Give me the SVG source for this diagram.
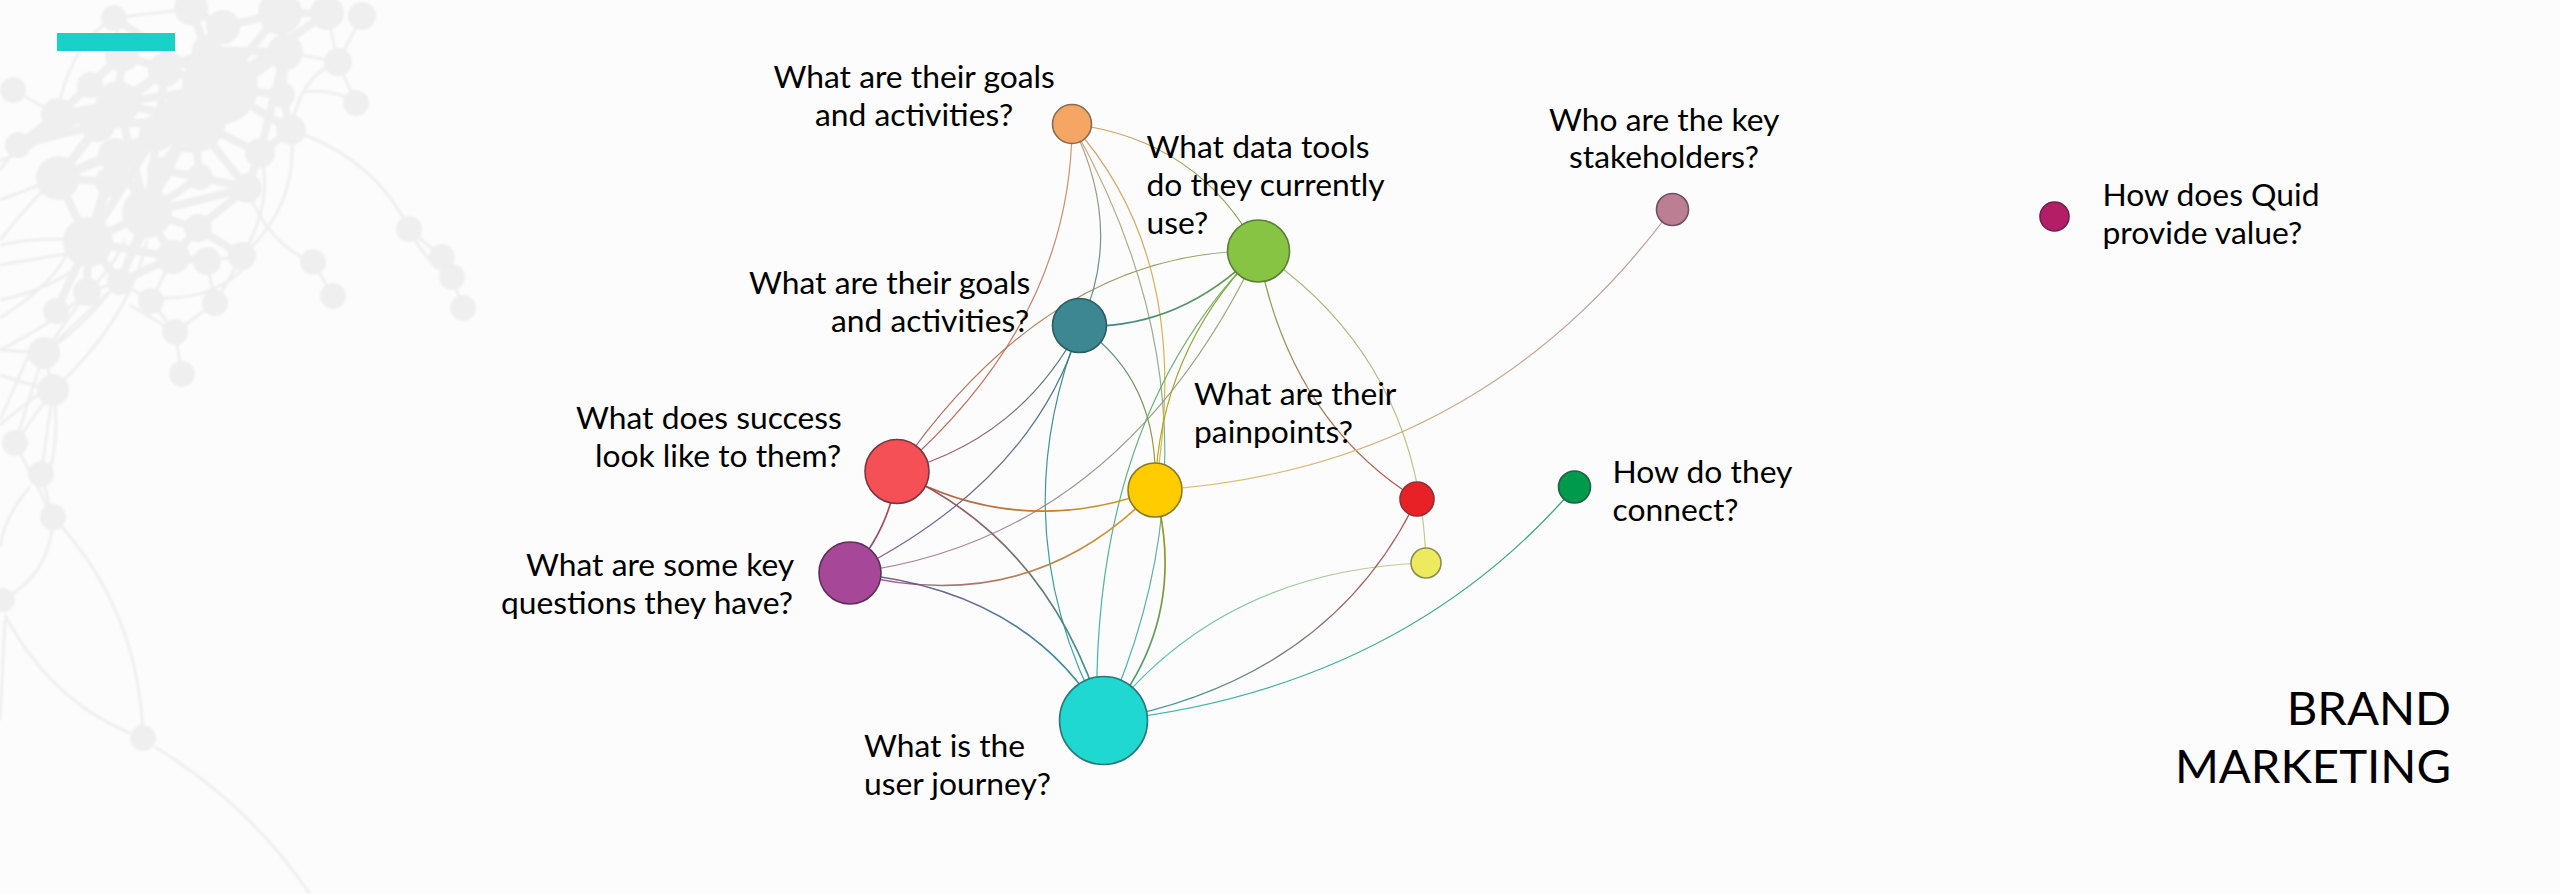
<svg xmlns="http://www.w3.org/2000/svg" width="2560" height="894" viewBox="0 0 2560 894">
<style>
text{font-family:"Lato","Carlito","Open Sans",sans-serif;font-size:31.8px;fill:#000}
.title{font-size:47.3px}
.wm circle{fill:#efefef}
.wmc{fill:none;stroke:#efefef;stroke-width:3}
.wms{fill:none;stroke:#efefef;stroke-width:8}
.e{fill:none;stroke-width:1.2;stroke-opacity:.9}
.e2{fill:none;stroke-width:1.7;stroke-opacity:.95}
.n{stroke-width:1.6}
</style>
<defs>
<filter id="soft" x="-5%" y="-5%" width="110%" height="110%"><feGaussianBlur stdDeviation="0.9"/></filter>
<linearGradient id="OG" gradientUnits="userSpaceOnUse" x1="1072" y1="124" x2="1258" y2="251"><stop offset="0" stop-color="#d8965a"/><stop offset="1" stop-color="#6a9a38"/></linearGradient>
<linearGradient id="OR" gradientUnits="userSpaceOnUse" x1="1072" y1="124" x2="897" y2="472"><stop offset="0" stop-color="#d08e60"/><stop offset="1" stop-color="#b85048"/></linearGradient>
<linearGradient id="GR" gradientUnits="userSpaceOnUse" x1="1258" y1="251" x2="897" y2="472"><stop offset="0" stop-color="#86a552"/><stop offset="1" stop-color="#b85048"/></linearGradient>
<linearGradient id="OT" gradientUnits="userSpaceOnUse" x1="1072" y1="124" x2="1080" y2="326"><stop offset="0" stop-color="#b89a70"/><stop offset="1" stop-color="#2f7f8a"/></linearGradient>
<linearGradient id="OC" gradientUnits="userSpaceOnUse" x1="1072" y1="124" x2="1104" y2="721"><stop offset="0" stop-color="#c8a070"/><stop offset="1" stop-color="#22aea8"/></linearGradient>
<linearGradient id="OY" gradientUnits="userSpaceOnUse" x1="1072" y1="124" x2="1155" y2="490"><stop offset="0" stop-color="#d09a5c"/><stop offset="1" stop-color="#d8b428"/></linearGradient>
<linearGradient id="TG" gradientUnits="userSpaceOnUse" x1="1080" y1="326" x2="1258" y2="251"><stop offset="0" stop-color="#2f7f8a"/><stop offset="1" stop-color="#6a9a3c"/></linearGradient>
<linearGradient id="TY" gradientUnits="userSpaceOnUse" x1="1080" y1="326" x2="1155" y2="490"><stop offset="0" stop-color="#2f7f8a"/><stop offset="1" stop-color="#a89410"/></linearGradient>
<linearGradient id="TR" gradientUnits="userSpaceOnUse" x1="1080" y1="326" x2="897" y2="472"><stop offset="0" stop-color="#2f7480"/><stop offset="1" stop-color="#a84048"/></linearGradient>
<linearGradient id="TP" gradientUnits="userSpaceOnUse" x1="1080" y1="326" x2="850" y2="573"><stop offset="0" stop-color="#2f7480"/><stop offset="1" stop-color="#804488"/></linearGradient>
<linearGradient id="TC" gradientUnits="userSpaceOnUse" x1="1080" y1="326" x2="1104" y2="721"><stop offset="0" stop-color="#2f7f8a"/><stop offset="1" stop-color="#1f9f9c"/></linearGradient>
<linearGradient id="GY" gradientUnits="userSpaceOnUse" x1="1258" y1="251" x2="1155" y2="490"><stop offset="0" stop-color="#6ea032"/><stop offset="1" stop-color="#b89c00"/></linearGradient>
<linearGradient id="GC" gradientUnits="userSpaceOnUse" x1="1258" y1="251" x2="1104" y2="721"><stop offset="0" stop-color="#74a848"/><stop offset="1" stop-color="#22b0a8"/></linearGradient>
<linearGradient id="GP" gradientUnits="userSpaceOnUse" x1="1258" y1="251" x2="850" y2="573"><stop offset="0" stop-color="#8ca868"/><stop offset="1" stop-color="#a06c9c"/></linearGradient>
<linearGradient id="GD" gradientUnits="userSpaceOnUse" x1="1258" y1="251" x2="1417" y2="499"><stop offset="0" stop-color="#80a04a"/><stop offset="1" stop-color="#b8403a"/></linearGradient>
<linearGradient id="GW" gradientUnits="userSpaceOnUse" x1="1258" y1="251" x2="1426" y2="563"><stop offset="0" stop-color="#96ae6c"/><stop offset="1" stop-color="#c8c678"/></linearGradient>
<linearGradient id="YM" gradientUnits="userSpaceOnUse" x1="1155" y1="490" x2="1672" y2="209"><stop offset="0" stop-color="#dcbc5c"/><stop offset="1" stop-color="#b48c98"/></linearGradient>
<linearGradient id="RY" gradientUnits="userSpaceOnUse" x1="897" y1="472" x2="1155" y2="490"><stop offset="0" stop-color="#a84a42"/><stop offset="1" stop-color="#c8a018"/></linearGradient>
<linearGradient id="RP" gradientUnits="userSpaceOnUse" x1="897" y1="472" x2="850" y2="573"><stop offset="0" stop-color="#a84448"/><stop offset="1" stop-color="#84407a"/></linearGradient>
<linearGradient id="RC" gradientUnits="userSpaceOnUse" x1="897" y1="472" x2="1104" y2="721"><stop offset="0" stop-color="#a84448"/><stop offset="1" stop-color="#1f9a98"/></linearGradient>
<linearGradient id="PY" gradientUnits="userSpaceOnUse" x1="850" y1="573" x2="1155" y2="490"><stop offset="0" stop-color="#94508c"/><stop offset="1" stop-color="#d0a018"/></linearGradient>
<linearGradient id="PC" gradientUnits="userSpaceOnUse" x1="850" y1="573" x2="1104" y2="721"><stop offset="0" stop-color="#7c4488"/><stop offset="1" stop-color="#1f9a98"/></linearGradient>
<linearGradient id="YC" gradientUnits="userSpaceOnUse" x1="1155" y1="490" x2="1104" y2="721"><stop offset="0" stop-color="#a89000"/><stop offset="1" stop-color="#2a9c88"/></linearGradient>
<linearGradient id="CW" gradientUnits="userSpaceOnUse" x1="1104" y1="721" x2="1426" y2="563"><stop offset="0" stop-color="#30b8b0"/><stop offset="1" stop-color="#c4c880"/></linearGradient>
<linearGradient id="CD" gradientUnits="userSpaceOnUse" x1="1104" y1="721" x2="1417" y2="499"><stop offset="0" stop-color="#209c98"/><stop offset="1" stop-color="#b84040"/></linearGradient>
<linearGradient id="CN" gradientUnits="userSpaceOnUse" x1="1104" y1="721" x2="1575" y2="487"><stop offset="0" stop-color="#30b0ac"/><stop offset="1" stop-color="#1a9468"/></linearGradient>
</defs>
<rect width="2560" height="894" fill="#fcfcfc"/>
<g id="watermark" class="wm" filter="url(#soft)">
<path class="wms" d="M220 87L114 18M220 87L191 8M220 87L280 13M220 87L327 13M220 87L285 52M220 87L165 70M220 87L122 55M220 87L118 103M220 87L193 120M220 87L282 95M220 87L291 130M193 120L118 103M193 120L157 133M193 120L98 125M193 120L115 155M193 120L160 170M193 120L200 177M193 120L260 153M193 120L247 188M193 120L147 213M193 120L285 52M157 133L58 178M157 133L88 242M157 133L147 213M157 133L110 182M118 103L58 115M118 103L90 85M118 103L58 178M118 103L18 145M118 103L147 213M118 103L122 55M98 125L58 115M98 125L58 178M98 125L18 145M115 155L88 242M115 155L58 178M115 155L147 213M110 182L88 242M110 182L58 178M58 178L88 242M147 213L88 242M147 213L198 228M147 213L173 257M147 213L120 282M147 213L200 177M147 213L247 188M147 213L160 170M198 228L173 257M198 228L247 188M198 228L242 256M88 242L87 292M88 242L120 282M88 242L173 257M88 242L56 311M173 257L120 282M173 257L207 261M260 153L291 130M260 153L247 188M200 177L247 188M200 177L160 170M291 130L282 95M282 95L285 52M280 13L327 13M280 13L223 27M223 27L191 8M207 50L165 70M207 50L285 52M165 70L122 55M122 55L90 85M90 85L58 115M58 115L18 145M118 103L165 70M285 52L260 153M165 70L157 133M98 125L165 70"/>
<path class="wmc" d="M13 90L58 115M18 145L0 170M58 178L0 200M122 55L114 18M87 292L44 353M120 282L44 353M120 282L87 292M151 301L173 257M215 303L242 256M338 62L285 52M338 62L327 13M291 130Q375 158 409 229M409 229Q425 262 452 277M442 257L409 229M452 277L463 308M291 130Q300 205 242 256M247 265Q215 300 160 298M247 188Q268 245 313 262M313 262L333 296M338 62Q300 75 291 130M356 103Q335 88 305 92M338 62L356 103M338 62L362 16M175 332L130 305M175 332L151 301M175 332L215 303M175 332L182 374M207 261L242 256M215 303L207 261M151 301L120 282M260 153Q275 200 242 256M0 245Q50 235 88 242M0 265Q60 255 88 250M0 300Q50 290 88 260M0 318Q60 280 70 245M0 240Q40 190 58 178M0 160Q40 150 58 120M0 350Q100 300 125 240M53 390Q130 320 147 240M44 353Q110 310 147 230M0 350L44 353M0 375Q30 385 53 390M44 353L53 390M44 353L15 443M53 390L15 443M53 390L41 474M53 390Q60 430 50 470M30 352L0 420M41 474L53 517M15 443L53 517M52 530Q45 575 10 595M30 487Q5 515 0 547M53 517Q140 610 143 738M5 615Q50 700 130 733M155 747Q250 805 310 894M5 620L0 720M0 425Q35 395 53 385M114 18Q75 40 60 100M180 10L114 18"/>
<circle cx="114" cy="18" r="13"/><circle cx="191" cy="8" r="17"/><circle cx="280" cy="13" r="22"/><circle cx="362" cy="16" r="14"/><circle cx="327" cy="13" r="17"/><circle cx="223" cy="27" r="17"/><circle cx="338" cy="62" r="14"/><circle cx="356" cy="103" r="13"/><circle cx="285" cy="52" r="18"/><circle cx="207" cy="50" r="15"/><circle cx="220" cy="87" r="38"/><circle cx="165" cy="70" r="17"/><circle cx="122" cy="55" r="17"/><circle cx="90" cy="85" r="13"/><circle cx="13" cy="90" r="13"/><circle cx="58" cy="115" r="17"/><circle cx="118" cy="103" r="22"/><circle cx="193" cy="120" r="33"/><circle cx="282" cy="95" r="13"/><circle cx="291" cy="130" r="15"/><circle cx="157" cy="133" r="18"/><circle cx="98" cy="125" r="17"/><circle cx="18" cy="145" r="13"/><circle cx="115" cy="155" r="17"/><circle cx="58" cy="178" r="22"/><circle cx="110" cy="182" r="15"/><circle cx="160" cy="170" r="13"/><circle cx="200" cy="177" r="13"/><circle cx="260" cy="153" r="15"/><circle cx="247" cy="188" r="15"/><circle cx="147" cy="213" r="25"/><circle cx="88" cy="242" r="25"/><circle cx="198" cy="228" r="14"/><circle cx="173" cy="257" r="17"/><circle cx="207" cy="261" r="14"/><circle cx="242" cy="256" r="14"/><circle cx="313" cy="262" r="13"/><circle cx="333" cy="296" r="13"/><circle cx="409" cy="229" r="13"/><circle cx="442" cy="257" r="13"/><circle cx="452" cy="277" r="13"/><circle cx="463" cy="308" r="13"/><circle cx="87" cy="292" r="14"/><circle cx="120" cy="282" r="13"/><circle cx="151" cy="301" r="13"/><circle cx="215" cy="303" r="13"/><circle cx="175" cy="332" r="13"/><circle cx="56" cy="311" r="13"/><circle cx="44" cy="353" r="16"/><circle cx="53" cy="390" r="16"/><circle cx="182" cy="374" r="13"/><circle cx="15" cy="443" r="13"/><circle cx="41" cy="474" r="13"/><circle cx="53" cy="517" r="13"/><circle cx="3" cy="600" r="12"/><circle cx="143" cy="738" r="13"/>
</g>
<rect id="accent" x="57" y="33" width="118" height="18" fill="#18d2c7"/>
<g id="connectors">
<path class="e" stroke="url(#OG)" d="M1072 124Q1200 140 1258 251"/>
<path class="e" stroke="url(#OR)" d="M1072 124Q1072 320 897 472"/>
<path class="e" stroke="url(#GR)" d="M1258 251Q1050 250 897 472"/>
<path class="e" stroke="url(#OT)" d="M1072 124Q1125 230 1080 326"/>
<path class="e" stroke="url(#OC)" d="M1072 124Q1240 420 1104 721"/>
<path class="e" stroke="url(#OY)" d="M1072 124Q1195 260 1155 490"/>
<path class="e2" stroke="url(#TG)" d="M1080 326Q1180 330 1258 251"/>
<path class="e" stroke="url(#TY)" d="M1080 326Q1160 380 1155 490"/>
<path class="e" stroke="url(#TR)" d="M1080 326Q1020 440 897 472"/>
<path class="e" stroke="url(#TP)" d="M1080 326Q1035 480 850 573"/>
<path class="e" stroke="url(#TC)" d="M1080 326Q1000 530 1104 721"/>
<path class="e" stroke="url(#GY)" d="M1258 251Q1160 350 1155 490"/>
<path class="e" stroke="url(#GC)" d="M1258 251Q1090 420 1097 720"/>
<path class="e" stroke="url(#GP)" d="M1258 251Q1120 540 850 573"/>
<path class="e" stroke="url(#GD)" d="M1258 251Q1290 420 1417 499"/>
<path class="e" stroke="url(#GW)" d="M1258 251Q1420 360 1426 563"/>
<path class="e" stroke="url(#YM)" d="M1155 490Q1480 470 1672 209"/>
<path class="e2" stroke="url(#RY)" d="M897 472Q1020 540 1155 490"/>
<path class="e2" stroke="url(#RP)" d="M897 472Q890 530 850 573"/>
<path class="e2" stroke="url(#RC)" d="M897 472Q1050 540 1104 721"/>
<path class="e2" stroke="url(#PY)" d="M850 573Q1030 620 1155 490"/>
<path class="e2" stroke="url(#PC)" d="M850 573Q1030 590 1104 721"/>
<path class="e2" stroke="url(#YC)" d="M1155 490Q1190 620 1104 721"/>
<path class="e" stroke="url(#CW)" d="M1104 721Q1220 570 1426 563"/>
<path class="e" stroke="url(#CD)" d="M1104 721Q1330 680 1417 499"/>
<path class="e" stroke="url(#CN)" d="M1104 721Q1400 690 1575 487"/>
</g>
<g id="node-orange"><circle class="n" cx="1072" cy="124" r="19.5" fill="#f5a665" stroke="#8a6a50"/><text x="773.5" y="87.5">What are their goals</text><text x="815" y="125.5">and activities?</text></g>
<g id="node-green"><circle class="n" cx="1258.5" cy="251" r="31" fill="#87c443" stroke="#5b7f35"/><text x="1146.5" y="157.5">What data tools</text><text x="1146.5" y="195.5">do they currently</text><text x="1146.5" y="233.5">use?</text></g>
<g id="node-teal"><circle class="n" cx="1079.5" cy="325.5" r="27" fill="#3c8791" stroke="#2a5c62"/><text x="749" y="294">What are their goals</text><text x="831" y="332">and activities?</text></g>
<g id="node-red"><circle class="n" cx="897" cy="471.5" r="32" fill="#f55056" stroke="#7a3540"/><text x="576" y="428.5">What does success</text><text x="595" y="466.5">look like to them?</text></g>
<g id="node-yellow"><circle class="n" cx="1155" cy="490" r="27" fill="#ffcc00" stroke="#8a7a28"/><text x="1194" y="405">What are their</text><text x="1194" y="443">painpoints?</text></g>
<g id="node-purple"><circle class="n" cx="850" cy="573" r="31" fill="#a64897" stroke="#5a3058"/><text x="526" y="576">What are some key</text><text x="501" y="614">questions they have?</text></g>
<g id="node-cyan"><circle class="n" cx="1103.5" cy="720.5" r="44" fill="#1ed8d1" stroke="#2a7a78"/><text x="864" y="756.5">What is the</text><text x="864" y="794.5">user journey?</text></g>
<g id="node-darkred"><circle class="n" cx="1417" cy="499" r="17" fill="#e82127" stroke="#8f3038"/></g>
<g id="node-paleyellow"><circle class="n" cx="1426" cy="563" r="15" fill="#eeea60" stroke="#8e8c50"/></g>
<g id="node-darkgreen"><circle class="n" cx="1574.5" cy="487" r="16" fill="#009a4c" stroke="#1f5f48"/><text x="1612.5" y="482.5">How do they</text><text x="1612.5" y="520.5">connect?</text></g>
<g id="node-mauve"><circle class="n" cx="1672.5" cy="209.5" r="16" fill="#bc7e93" stroke="#6e5060"/><text x="1549" y="130.5">Who are the key</text><text x="1569" y="168">stakeholders?</text></g>
<g id="node-magenta"><circle class="n" cx="2054.5" cy="216.5" r="14.5" fill="#b31e66" stroke="#6e2050"/><text x="2102.5" y="205.5">How does Quid</text><text x="2102.5" y="243.5">provide value?</text></g>
<g id="title"><text class="title" x="2451" y="725" text-anchor="end">BRAND</text><text class="title" x="2451" y="783" text-anchor="end">MARKETING</text></g>
</svg>
